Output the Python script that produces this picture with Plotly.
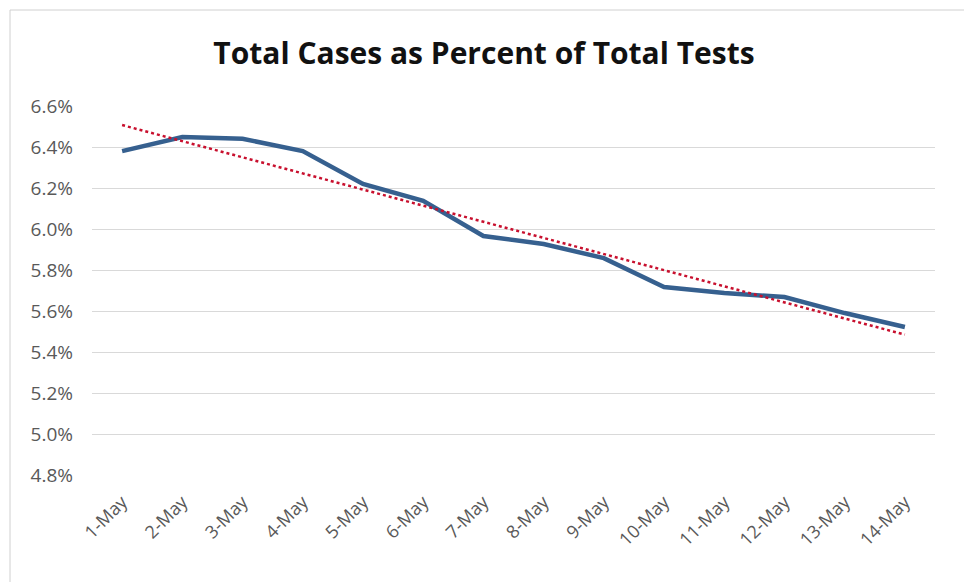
import numpy as np
import plotly.graph_objects as go

dates = ["1-May", "2-May", "3-May", "4-May", "5-May", "6-May", "7-May",
         "8-May", "9-May", "10-May", "11-May", "12-May", "13-May", "14-May"]
pct_positive = [0.0638, 0.06449, 0.0644, 0.0638, 0.0622, 0.06137, 0.05966,
                0.05927, 0.05858, 0.05717, 0.05688, 0.05668, 0.0559, 0.05522]
y_ticks = [0.048, 0.050, 0.052, 0.054, 0.056, 0.058, 0.060, 0.062, 0.064, 0.066]

idx = np.arange(len(dates))
slope, intercept = np.polyfit(idx, pct_positive, 1)
trend = list(slope * idx + intercept)

W, H = 964, 582
ml, mr, mt, mb = 92, 29, 106, 107
pw, ph = W - ml - mr, H - mt - mb

fig = go.Figure()
fig.add_trace(go.Scatter(x=dates, y=pct_positive, mode="lines",
                         line=dict(color="#36608F", width=4.5),
                         showlegend=False, hoverinfo="skip"))
fig.add_trace(go.Scatter(x=dates, y=trend, mode="lines",
                         line=dict(color="#C8102E", width=2.5, dash="dot"),
                         showlegend=False, hoverinfo="skip"))

fig.update_layout(
    width=W, height=H,
    margin=dict(l=ml, r=mr, t=mt, b=mb),
    paper_bgcolor="white", plot_bgcolor="white",
    title=dict(text="<b>Total Cases as Percent of Total Tests</b>",
               x=(484 - ml) / pw, xref="paper", xanchor="center",
               y=1 - 53 / H, yref="container", yanchor="middle",
               font=dict(family="Open Sans", size=30, color="#111111")),
    xaxis=dict(type="category", range=[-0.5, 13.5], showgrid=False,
               showline=False, ticks="", tickangle=-45,
               ticklabelstandoff=12,
               tickfont=dict(family="Open Sans", size=18, color="#595959")),
    yaxis=dict(range=[0.048, 0.066], tickvals=y_ticks, tickformat=".1%",
               showgrid=True, gridcolor="#D9D9D9", gridwidth=1,
               zeroline=False, showline=False, ticks="",
               ticklabelstandoff=18,
               tickfont=dict(family="Open Sans", size=19, color="#595959")),
    shapes=[dict(type="rect", xref="paper", yref="paper",
                 x0=(10 - ml) / pw, x1=(W + 5 - ml) / pw,
                 y0=-(H + 5 - mt - ph) / ph, y1=1 + (mt - 10) / ph,
                 line=dict(color="#D0D0D0", width=1), fillcolor="rgba(0,0,0,0)",
                 layer="below")],
)

fig.write_html("out.html", config={"displayModeBar": False},
               post_script="document.body.style.margin='0';document.body.style.overflow='hidden';")
